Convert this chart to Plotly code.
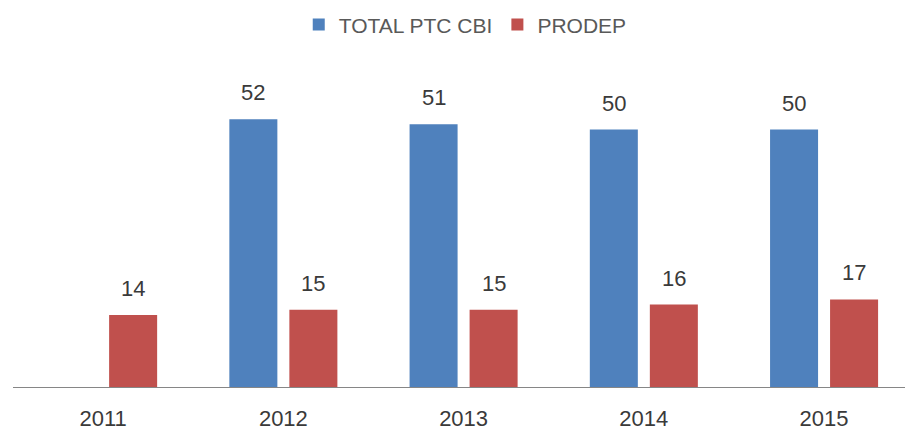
import plotly.graph_objects as go

years = ["2011", "2012", "2013", "2014", "2015"]
total_ptc_cbi = [None, 52, 51, 50, 50]
prodep = [14, 15, 15, 16, 17]

series_names = ["TOTAL PTC CBI", "PRODEP"]
blue = "#4F81BD"
red = "#C0504D"

fig = go.Figure()
fig.add_trace(go.Bar(x=years, y=total_ptc_cbi, name=series_names[0],
                     marker=dict(color=blue, line=dict(width=0))))
fig.add_trace(go.Bar(x=years, y=prodep, name=series_names[1],
                     marker=dict(color=red, line=dict(width=0))))

annotations = []
for vals, shift in ((total_ptc_cbi, -30), (prodep, 30)):
    for i, v in enumerate(vals):
        if v is None:
            continue
        annotations.append(dict(
            x=i, y=v, xref="x", yref="y", text=str(v), showarrow=False,
            xshift=shift, yshift=12, yanchor="bottom",
            font=dict(size=22, color="#3a3a3a", family="Liberation Sans")))

fig.update_layout(
    width=905, height=432,
    margin=dict(l=13, r=0, t=60, b=45, autoexpand=False),
    paper_bgcolor="white", plot_bgcolor="white",
    barmode="group", bargap=0.334, bargroupgap=0.2,
    font=dict(family="Liberation Sans", color="#404040"),
    showlegend=True,
    legend=dict(orientation="h", x=0.507, xanchor="center", y=0.99, yanchor="top",
                yref="container", font=dict(size=21, color="#595959"),
                traceorder="normal"),
    annotations=annotations,
)
fig.update_xaxes(type="category", range=[-0.5, 4.449], showline=True,
                 linecolor="#868686", linewidth=1, ticks="outside", ticklen=12,
                 tickcolor="rgba(0,0,0,0)", tickfont=dict(size=22, color="#3a3a3a"),
                 showgrid=False, zeroline=False, fixedrange=True, automargin=False)
fig.update_yaxes(range=[0, 63.5], visible=False, showgrid=False, zeroline=False,
                 automargin=False)

fig.write_html("out.html", config={"displayModeBar": False},
               post_script="document.body.style.margin='0';document.body.style.overflow='hidden';")
